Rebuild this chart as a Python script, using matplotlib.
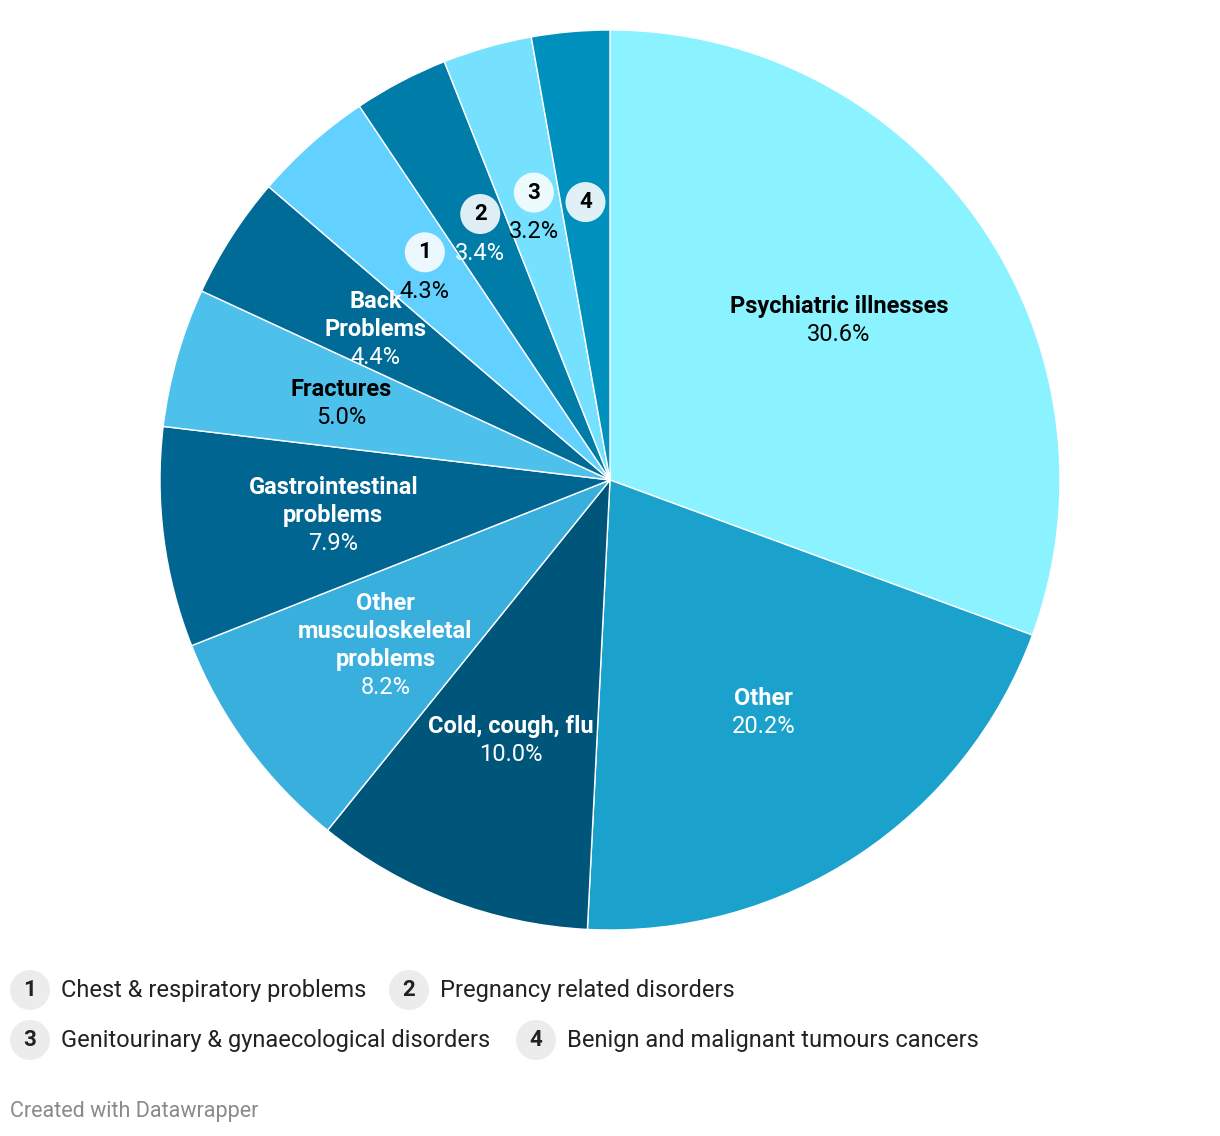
import numpy as np
import matplotlib.pyplot as plt
from matplotlib.patches import Circle

plt.rcParams['font.family'] = ['Roboto', 'DejaVu Sans']

# slices, clockwise from 12 o'clock
names = ["Psychiatric illnesses", "Other", "Cold, cough, flu",
         "Other\nmusculoskeletal\nproblems", "Gastrointestinal\nproblems",
         "Fractures", "Back\nProblems", "1", "2", "3", "4"]
shares = [30.6, 20.2, 10.0, 8.2, 7.9, 5.0, 4.4, 4.3, 3.4, 3.2, 2.8]
show_pct = [True] * 10 + [False]
colors = ["#8af3ff", "#1aa1cc", "#00557b", "#38afdc", "#006590", "#4dc1ec",
          "#006b96", "#63d1ff", "#007ca8", "#75e1ff", "#0090bd"]
txt_colors = ["black", "white", "white", "white", "white", "black",
              "white", "black", "white", "black", "black"]

legend_nums = ["1", "2", "3", "4"]
legend_names = ["Chest & respiratory problems", "Pregnancy related disorders",
                "Genitourinary & gynaecological disorders",
                "Benign and malignant tumours cancers"]

W, H = 1220, 1136
fig = plt.figure(figsize=(W / 100, H / 100), dpi=100)
R = 450
cx, cy = 610, 480
ax = fig.add_axes([(cx - R) / W, (H - cy - R) / H, 2 * R / W, 2 * R / H])
wedges, _ = ax.pie(shares, colors=colors, startangle=90, counterclock=False,
                   radius=1, wedgeprops=dict(edgecolor="white", linewidth=1))
ax.set_xlim(-1, 1)
ax.set_ylim(-1, 1)
ax.set_aspect("equal")
ax.axis("off")

px = 1 / R  # one pixel in data units
lh = 28 * px
fs = 17
for w, name, pct, show, tc in zip(wedges, names, shares, show_pct, txt_colors):
    mid = np.deg2rad((w.theta1 + w.theta2) / 2)
    x, y = 0.62 * np.cos(mid), 0.62 * np.sin(mid)
    if name.isdigit():
        cy_ = y + (19 * px if show else 0)
        ax.add_patch(Circle((x, cy_), 20 * px, facecolor="white", alpha=0.88,
                            edgecolor="none", zorder=3))
        ax.text(x, cy_, name, ha="center", va="center", fontsize=16,
                fontweight="bold", color="black", zorder=4)
        if show:
            ax.text(x, y - 20 * px, f"{pct:.1f}%", ha="center", va="center",
                    fontsize=fs, color=tc, zorder=4)
        continue
    lines = name.split("\n")
    n = len(lines) + 1
    top = y + (n - 1) / 2 * lh
    for i, ln in enumerate(lines):
        ax.text(x, top - i * lh, ln, ha="center", va="center", fontsize=fs,
                fontweight="bold", color=tc, zorder=4)
    ax.text(x, top - len(lines) * lh, f"{pct:.1f}%", ha="center", va="center",
            fontsize=fs, color=tc, zorder=4)

# legend and footer in pixel coordinates
lax = fig.add_axes([0, 0, 1, 1])
lax.set_xlim(0, W)
lax.set_ylim(H, 0)
lax.axis("off")
lax.patch.set_alpha(0)

leg_pos = [(30, 990), (409, 990), (30, 1040), (536, 1040)]
for (lx, ly), num, lab in zip(leg_pos, legend_nums, legend_names):
    lax.add_patch(Circle((lx, ly), 20, facecolor="#ececec", edgecolor="none"))
    lax.text(lx, ly, num, ha="center", va="center", fontsize=16,
             fontweight="bold", color="#222222")
    lax.text(lx + 31, ly, lab, ha="left", va="center", fontsize=17,
             color="#222222")

lax.text(10, 1112, "Created with Datawrapper", ha="left", va="center",
         fontsize=15.5, color="#8a8a8a")

fig.savefig("out.png", dpi=100, facecolor="white")
